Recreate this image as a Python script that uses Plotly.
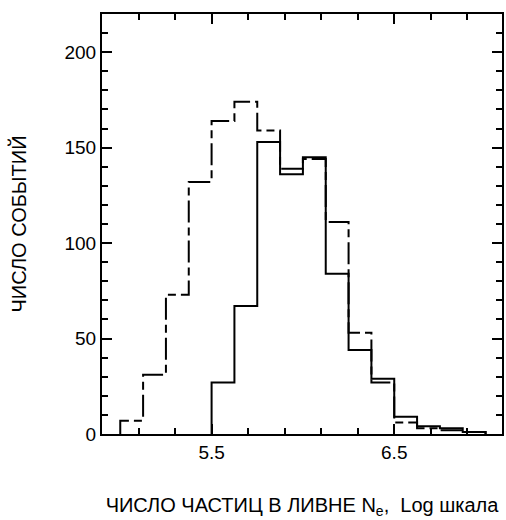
import plotly.graph_objects as go

# Shower size bins (log10 Ne), bin width 0.125
edges_all = [5.0, 5.125, 5.25, 5.375, 5.5, 5.625, 5.75, 5.875, 6.0,
             6.125, 6.25, 6.375, 6.5, 6.625, 6.75, 6.875, 7.0]
counts_dashed = [7, 31, 73, 132, 164, 174, 159, 139, 144, 111, 53, 27, 6, 3, 2, 1]

edges_solid = [5.5, 5.625, 5.75, 5.875, 6.0, 6.125, 6.25, 6.375,
               6.5, 6.625, 6.75, 6.875, 7.0]
counts_solid = [27, 67, 153, 136, 145, 84, 44, 29, 9, 4, 3, 1]

x_ticks = [5.5, 6.5]
x_ticktext = ["5.5", "6.5"]
y_ticks = [0, 50, 100, 150, 200]


def step_outline(edges, counts):
    xs = [edges[0]] + list(edges) + [edges[-1]]
    ys = [0] + list(counts) + [counts[-1], 0]
    return xs, ys


fig = go.Figure()

xd, yd = step_outline(edges_all, counts_dashed)
fig.add_trace(go.Scatter(
    x=xd, y=yd, mode="lines", line_shape="hv",
    line=dict(color="black", width=2, dash="22px,5px,8px,5px"),
    showlegend=False, hoverinfo="skip"))

xs, ys = step_outline(edges_solid, counts_solid)
fig.add_trace(go.Scatter(
    x=xs, y=ys, mode="lines", line_shape="hv",
    line=dict(color="black", width=2),
    showlegend=False, hoverinfo="skip"))

font = "Liberation Sans, Arial, sans-serif"

fig.update_layout(
    width=506, height=520,
    margin=dict(l=102, r=2, t=14, b=86),
    paper_bgcolor="white", plot_bgcolor="white",
    font=dict(family=font, size=19, color="black"),
    xaxis=dict(
        range=[4.9, 7.09], showgrid=False, zeroline=False,
        showline=True, linecolor="black", linewidth=2, mirror="ticks",
        ticks="inside", ticklen=10, tickwidth=2, tickcolor="black",
        tickvals=x_ticks, ticktext=x_ticktext,
        minor=dict(tick0=4.9, dtick=0.2, ticks="inside", ticklen=6,
                   tickwidth=2, tickcolor="black", showgrid=False),
        title=dict(text="ЧИСЛО ЧАСТИЦ В ЛИВНЕ N<sub>e</sub>,  Log шкала",
                   font=dict(size=20), standoff=36),
    ),
    yaxis=dict(
        range=[0, 220], showgrid=False, zeroline=False,
        showline=True, linecolor="black", linewidth=2, mirror="ticks",
        ticks="inside", ticklen=10, tickwidth=2, tickcolor="black",
        tickvals=y_ticks,
        minor=dict(dtick=10, ticks="inside", ticklen=6,
                   tickwidth=2, tickcolor="black", showgrid=False),
        title=dict(text="ЧИСЛО СОБЫТИЙ", font=dict(size=20), standoff=32),
    ),
)

fig.write_html("out.html")
